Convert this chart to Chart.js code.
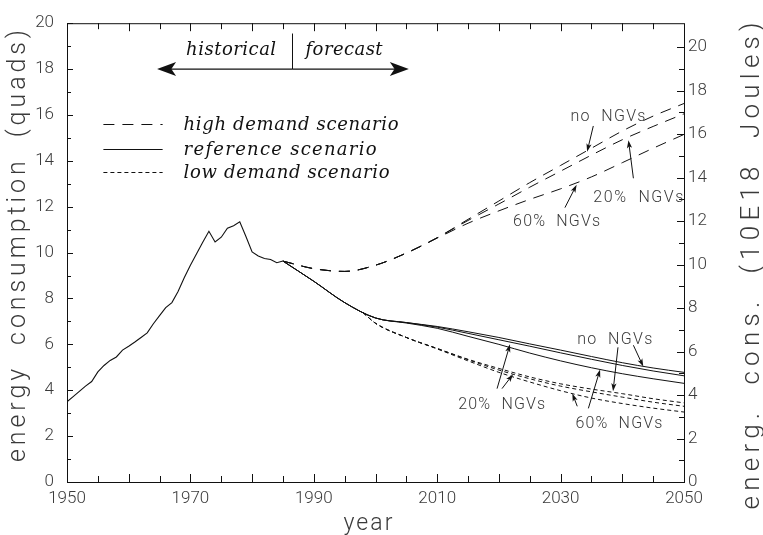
<!DOCTYPE html>
<html>
<head>
<meta charset="utf-8">
<script src="https://cdn.jsdelivr.net/npm/chart.js@4.4.1/dist/chart.umd.min.js"></script>
<style>
  html, body { margin: 0; padding: 0; background: #fff; }
</style>
</head>
<body>
<canvas id="energyChart" width="763" height="535"></canvas>
<script>
// ===============================
// DATA (quads)
// ===============================
const histYears = [1950, 1951, 1952, 1953, 1954, 1955, 1956, 1957, 1958, 1959,
  1960, 1961, 1962, 1963, 1964, 1965, 1966, 1967, 1968, 1969,
  1970, 1971, 1972, 1973, 1974, 1975, 1976, 1977, 1978, 1979,
  1980, 1981, 1982, 1983, 1984, 1985];
const histValues = [3.50, 3.72, 3.95, 4.18, 4.38, 4.80, 5.08, 5.30, 5.45, 5.75,
  5.92, 6.10, 6.30, 6.50, 6.90, 7.25, 7.60, 7.82, 8.30, 8.90,
  9.45, 9.95, 10.45, 10.93, 10.46, 10.67, 11.06, 11.17, 11.34, 10.70,
  10.03, 9.85, 9.74, 9.70, 9.56, 9.63];

const forecastYears = [1985, 1990, 1995, 2000, 2005, 2010, 2015, 2020, 2025, 2030, 2035, 2040, 2045, 2050];

const highNoNGV  = [9.63, 9.30, 9.18, 9.45, 9.98, 10.65, 11.45, 12.25, 13.05, 13.80, 14.55, 15.30, 15.95, 16.50];
const high20NGV  = [9.63, 9.30, 9.18, 9.45, 9.98, 10.65, 11.40, 12.12, 12.85, 13.55, 14.25, 14.92, 15.50, 16.05];
const high60NGV  = [9.63, 9.30, 9.18, 9.45, 9.98, 10.63, 11.28, 11.82, 12.32, 12.78, 13.30, 13.92, 14.55, 15.15];

const refNoNGV   = [9.63, 8.75, 7.82, 7.15, 6.95, 6.78, 6.55, 6.30, 6.02, 5.75, 5.47, 5.20, 4.97, 4.78];
const ref20NGV   = [9.63, 8.75, 7.82, 7.15, 6.95, 6.75, 6.48, 6.20, 5.92, 5.63, 5.35, 5.08, 4.84, 4.63];
const ref60NGV   = [9.63, 8.75, 7.82, 7.15, 6.93, 6.70, 6.35, 6.00, 5.62, 5.28, 4.98, 4.72, 4.50, 4.30];

const lowYears   = [1998, 2000, 2005, 2010, 2015, 2020, 2025, 2030, 2035, 2040, 2045, 2050];
const lowNoNGV   = [7.38, 6.92, 6.30, 5.82, 5.35, 4.95, 4.58, 4.28, 4.05, 3.85, 3.63, 3.45];
const low20NGV   = [7.38, 6.92, 6.30, 5.82, 5.33, 4.88, 4.50, 4.18, 3.93, 3.70, 3.48, 3.30];
const low60NGV   = [7.38, 6.92, 6.30, 5.80, 5.28, 4.78, 4.36, 3.98, 3.66, 3.42, 3.22, 3.05];

// ===============================
// AXIS TICKS
// ===============================
const yearLabels = [1950, 1970, 1990, 2010, 2030, 2050];
const yearMarks = [1955, 1960, 1965, 1970, 1975, 1980, 1985, 1990, 1995, 2000,
  2005, 2010, 2015, 2020, 2025, 2030, 2035, 2040, 2045];
const quadLabels = [0, 2, 4, 6, 8, 10, 12, 14, 16, 18, 20];
const quadMinor = [1, 3, 5, 7, 9, 11, 13, 15, 17, 19];
const jouleLabels = [0, 2, 4, 6, 8, 10, 12, 14, 16, 18, 20];
const jouleMinor = [1, 3, 5, 7, 9, 11, 13, 15, 17, 19];
const QUAD_TO_EJ = 1.055;

const INK = "#111";
const TEXT = "#3a3a3a";
const SANS = "'Roboto', 'Liberation Sans'";

const pts = (xs, ys) => xs.map((x, i) => ({ x, y: ys[i] }));

function series(xs, ys, dash) {
  return {
    data: pts(xs, ys),
    borderColor: INK,
    borderWidth: 1,
    borderDash: dash,
    pointRadius: 0,
    fill: false,
    cubicInterpolationMode: "monotone"
  };
}

const LONG = [11, 8];
const SHORT = [4, 3];

// ===============================
// OVERLAY: frame, ticks, titles, notes
// ===============================
function arrow(ctx, x1, y1, x2, y2, len, half) {
  const ang = Math.atan2(y2 - y1, x2 - x1);
  ctx.beginPath();
  ctx.moveTo(x1, y1);
  ctx.lineTo(x2 - Math.cos(ang) * len * 0.6, y2 - Math.sin(ang) * len * 0.6);
  ctx.stroke();
  ctx.save();
  ctx.translate(x2, y2);
  ctx.rotate(ang);
  ctx.beginPath();
  ctx.moveTo(0, 0);
  ctx.lineTo(-len, -half);
  ctx.lineTo(-len * 0.75, 0);
  ctx.lineTo(-len, half);
  ctx.closePath();
  ctx.fill();
  ctx.restore();
}

// spread text so it fills a given length (the original uses a wide stroke font)
function spreadText(ctx, text, cx, cy, length, angle) {
  ctx.letterSpacing = "0px";
  const w = ctx.measureText(text).width;
  const gap = Math.max(0, (length - w) / (text.length - 1));
  ctx.letterSpacing = gap + "px";
  ctx.save();
  ctx.translate(cx, cy);
  ctx.rotate(angle);
  ctx.textAlign = "left";
  ctx.fillText(text, -length / 2, 0);
  ctx.restore();
  ctx.letterSpacing = "0px";
}

const overlay = {
  id: "overlay",
  afterDraw(chart) {
    const { ctx, chartArea: a, scales } = chart;
    const X = v => scales.x.getPixelForValue(v);
    const Y = v => scales.y.getPixelForValue(v);
    const Y2 = v => scales.y2.getPixelForValue(v);

    ctx.save();
    ctx.strokeStyle = INK;
    ctx.fillStyle = INK;
    ctx.lineWidth = 1;

    // frame
    ctx.strokeRect(a.left + 0.5, a.top + 0.5, a.right - a.left, a.bottom - a.top);

    // inward ticks
    ctx.beginPath();
    yearMarks.forEach(v => {
      const px = Math.round(X(v)) + 0.5;
      const len = v % 10 === 0 ? 8 : 6;
      ctx.moveTo(px, a.bottom); ctx.lineTo(px, a.bottom - len);
      ctx.moveTo(px, a.top); ctx.lineTo(px, a.top + len);
    });
    quadLabels.concat(quadMinor).forEach(v => {
      const py = Math.round(Y(v)) + 0.5;
      const len = v % 2 === 0 ? 6 : 4;
      ctx.moveTo(a.left, py); ctx.lineTo(a.left + len, py);
    });
    jouleLabels.concat(jouleMinor).forEach(v => {
      const py = Math.round(Y2(v)) + 0.5;
      const len = v % 2 === 0 ? 7 : 5;
      ctx.moveTo(a.right, py); ctx.lineTo(a.right - len, py);
    });
    ctx.stroke();

    // axis titles
    ctx.fillStyle = TEXT;
    ctx.textBaseline = "alphabetic";
    ctx.font = "300 25px " + SANS;
    spreadText(ctx, "energy  consumption  (quads)", 25, 246, 432, -Math.PI / 2);
    ctx.font = "300 26px " + SANS;
    spreadText(ctx, "energ.  cons.  (10E18  Joules)", 759, 266, 487, -Math.PI / 2);
    ctx.font = "300 23px " + SANS;
    spreadText(ctx, "year", 368, 530, 49, 0);

    // historical | forecast
    ctx.fillStyle = INK;
    ctx.font = "italic 18px 'DejaVu Serif'";
    spreadText(ctx, "historical", X(1976.6), Y(18.62), 90, 0);
    spreadText(ctx, "forecast", X(1994.9), Y(18.62), 77, 0);
    ctx.beginPath();
    ctx.moveTo(Math.round(X(1986.5)) + 0.5, Y(19.55));
    ctx.lineTo(Math.round(X(1986.5)) + 0.5, Y(18.0));
    ctx.stroke();
    ctx.lineWidth = 1.4;
    const ay = Y(18.0);
    arrow(ctx, X(1986.5), ay, X(1964.6), ay, 19, 7);
    arrow(ctx, X(1986.5), ay, X(2005.4), ay, 19, 7);
    ctx.lineWidth = 1;

    // legend
    const rows = [
      { label: "high demand scenario", dash: LONG, v: 15.6, len: 215 },
      { label: "reference scenario", dash: [], v: 14.53, len: 193 },
      { label: "low demand scenario", dash: SHORT, v: 13.5, len: 206 }
    ];
    rows.forEach(r => {
      const py = Math.round(Y(r.v)) + 0.5;
      ctx.setLineDash(r.dash);
      ctx.beginPath();
      ctx.moveTo(X(1955.9), py);
      ctx.lineTo(X(1965.5), py);
      ctx.stroke();
      ctx.setLineDash([]);
      spreadText(ctx, r.label, X(1968.9) + r.len / 2, py + 5.5, r.len, 0);
    });

    // NGV notes: text, left year, baseline value, width
    ctx.font = "300 16px " + SANS;
    ctx.fillStyle = TEXT;
    const notes = [
      ["no  NGVs", 2031.6, 15.75, 75],
      ["20%  NGVs", 2035.3, 12.22, 90],
      ["60%  NGVs", 2022.3, 11.14, 87],
      ["no  NGVs", 2032.7, 6.0, 75],
      ["20%  NGVs", 2013.4, 3.17, 87],
      ["60%  NGVs", 2032.4, 2.36, 87]
    ];
    notes.forEach(n => spreadText(ctx, n[0], X(n[1]) + n[3] / 2, Y(n[2]), n[3], 0));

    ctx.fillStyle = INK;
    const pointers = [
      [2035.3, 15.52, 2034.3, 14.40],
      [2041.8, 13.24, 2041.0, 14.90],
      [2030.7, 11.96, 2032.6, 12.96],
      [2041.8, 5.96, 2043.4, 5.03],
      [2039.3, 5.87, 2038.5, 3.96],
      [2019.7, 4.07, 2021.8, 6.00],
      [2020.5, 4.07, 2022.3, 4.70],
      [2034.5, 3.21, 2036.4, 4.90],
      [2032.7, 3.30, 2031.9, 3.86]
    ];
    pointers.forEach(p => arrow(ctx, X(p[0]), Y(p[1]), X(p[2]), Y(p[3]), 8, 2.6));

    ctx.restore();
  }
};

// ===============================
// CHART
// ===============================
const histLine = series(histYears, histValues, []);
histLine.cubicInterpolationMode = "default";
histLine.tension = 0;
histLine.borderWidth = 1.1;

const tickFont = { family: SANS, size: 17, weight: "300" };

new Chart(document.getElementById("energyChart"), {
  type: "line",
  data: {
    datasets: [
      histLine,
      series(forecastYears, highNoNGV, LONG),
      series(forecastYears, high20NGV, LONG),
      series(forecastYears, high60NGV, LONG),
      series(forecastYears, refNoNGV, []),
      series(forecastYears, ref20NGV, []),
      series(forecastYears, ref60NGV, []),
      series(lowYears, lowNoNGV, SHORT),
      series(lowYears, low20NGV, SHORT),
      series(lowYears, low60NGV, SHORT)
    ]
  },
  options: {
    responsive: false,
    animation: false,
    layout: { padding: { top: 15, left: 0, right: 0, bottom: 0 } },
    plugins: {
      legend: { display: false },
      tooltip: { enabled: false }
    },
    scales: {
      x: {
        type: "linear",
        position: "bottom",
        min: 1950,
        max: 2050,
        afterBuildTicks: s => { s.ticks = yearLabels.map(v => ({ value: v })); },
        afterFit: s => { s.height = 53; },
        grid: { display: false, drawTicks: false },
        border: { display: false },
        ticks: {
          padding: 7,
          color: TEXT,
          font: tickFont,
          maxRotation: 0,
          callback: v => String(v)
        }
      },
      y: {
        type: "linear",
        position: "left",
        min: 0,
        max: 20,
        afterBuildTicks: s => { s.ticks = quadLabels.map(v => ({ value: v })); },
        afterFit: s => { s.width = 67; },
        grid: { display: false, drawTicks: false },
        border: { display: false },
        ticks: { padding: 13, color: TEXT, font: tickFont }
      },
      y2: {
        type: "linear",
        position: "right",
        min: 0,
        max: 20 * QUAD_TO_EJ,
        afterBuildTicks: s => { s.ticks = jouleLabels.map(v => ({ value: v })); },
        afterFit: s => { s.width = 79; },
        grid: { display: false, drawTicks: false },
        border: { display: false },
        ticks: { padding: 4, color: TEXT, font: tickFont }
      }
    }
  },
  plugins: [overlay]
});
</script>
</body>
</html>
